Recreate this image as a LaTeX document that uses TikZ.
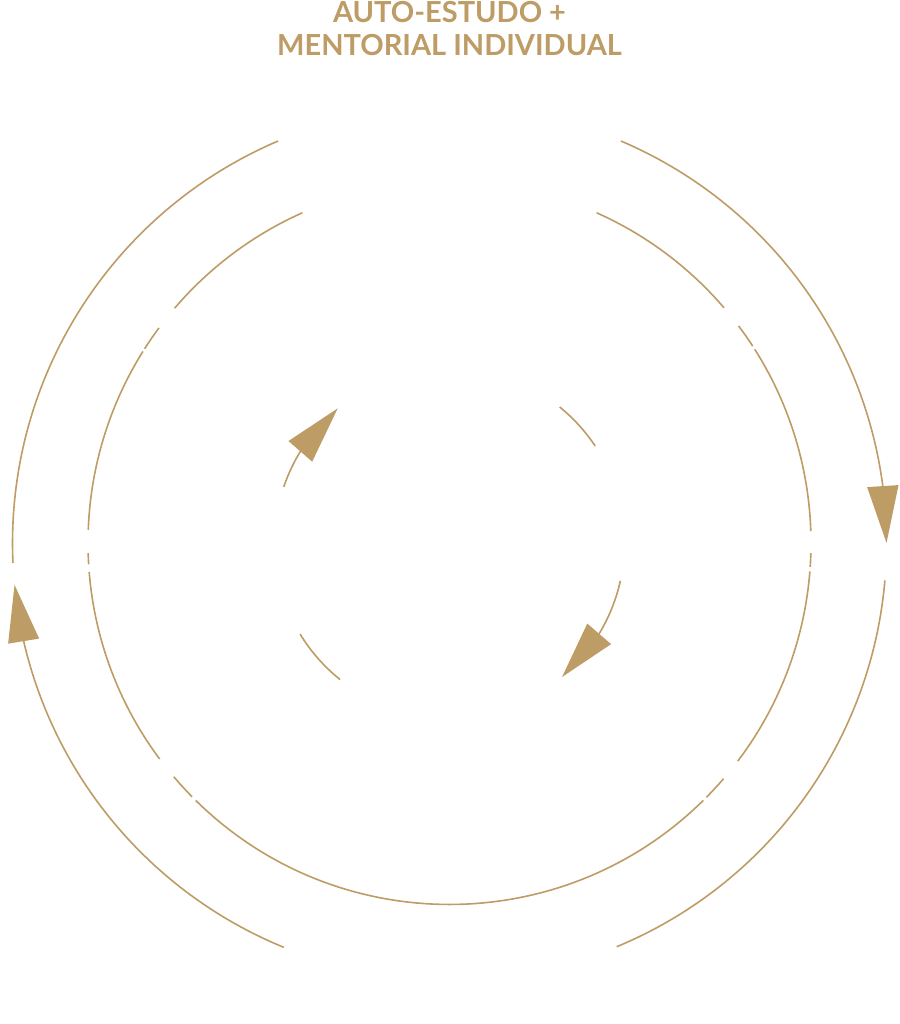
\documentclass[tikz,border=0pt]{standalone}
\usepackage{fontspec}
\newfontfamily\titlefont{Lato}
\usetikzlibrary{arrows.meta,bending}
\definecolor{gold}{HTML}{BD9C66}
\begin{document}
\begin{tikzpicture}[x=1pt,y=1pt,
  ring/.style={draw=gold,line width=1.6pt},
  bigtip/.style={-{Triangle[length=57pt,width=31pt,flex]}},
  title/.style={text=gold,font=\titlefont\bfseries\fontsize{29}{33}\selectfont,align=center,inner sep=0pt}]
\useasboundingbox (0,0) rectangle (899,1024);
\coordinate (C) at (449.5,481);
% title
\node[title,anchor=north] (t) at (449.5,1023) {AUTO-ESTUDO +\\MENTORIAL INDIVIDUAL};
% outer ring
\def\Ro{437}
\draw[ring] (C) ++(113.1:\Ro) arc[start angle=113.1,end angle=182.6,radius=\Ro];
\draw[ring,bigtip] (C) ++(247.7:\Ro) arc[start angle=247.7,end angle=185.5,radius=\Ro];
\draw[ring,bigtip] (C) ++(66.9:\Ro) arc[start angle=66.9,end angle=0,radius=\Ro];
\draw[ring] (C) ++(-4.9:\Ro) arc[start angle=-4.9,end angle=-67.5,radius=\Ro];
% middle ring
\def\Rm{361.5}
\foreach \a/\b in {-3.8/-1.6, 1.9/32.4, 33.0/36.9, 40.6/66, 114/139.5, 143.5/147.5,
  148.0/177.9, 181.6/183.4, 184.6/216.7, 220.3/224.6, 225.4/314.6, 315.3/319.3, 322.9/355.5}
  \draw[ring] (C) ++(\a:\Rm) arc[start angle=\a,end angle=\b,radius=\Rm];
% inner ring
\def\Ri{175}
\draw[ring,bigtip] (C) ++(161.3:\Ri) arc[start angle=161.3,end angle=129.7,radius=\Ri];
\draw[ring] (C) ++(33.7:\Ri) arc[start angle=33.7,end angle=51,radius=\Ri];
\draw[ring,bigtip] (C) ++(-12.5:\Ri) arc[start angle=-12.5,end angle=-50,radius=\Ri];
\draw[ring] (C) ++(211.4:\Ri) arc[start angle=211.4,end angle=231.3,radius=\Ri];
\end{tikzpicture}
\end{document}
